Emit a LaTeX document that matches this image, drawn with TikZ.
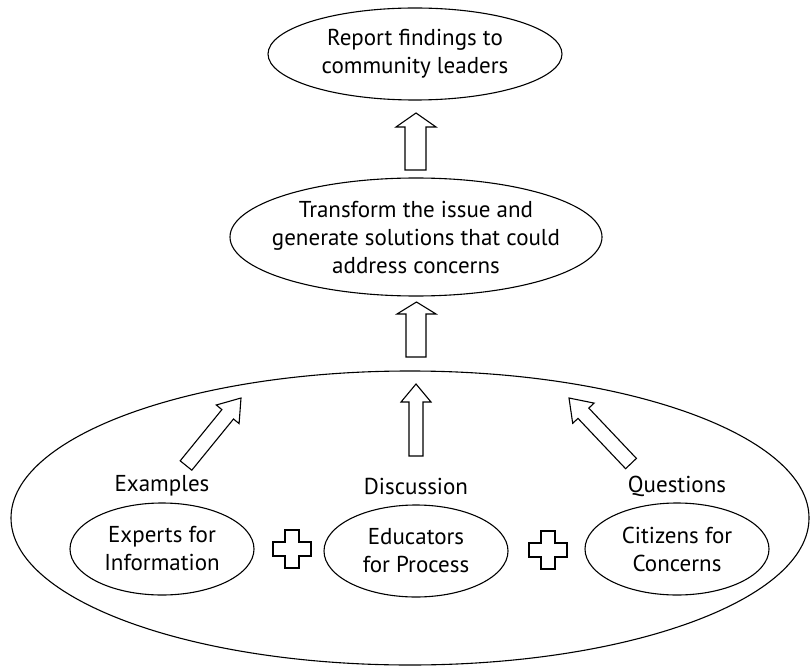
\documentclass[tikz,border=0pt]{standalone}
\usepackage{fontspec}
\setmainfont{PT Sans}
\usetikzlibrary{shapes.geometric}
\tikzset{
  oval/.style={draw, ellipse, line width=1.1pt, inner sep=0pt},
  lbl/.style={align=center, inner sep=0pt, font=\fontsize{23}{28}\selectfont},
  barrow/.style={draw, line width=1.1pt, line join=miter, fill=white},
  plussign/.style={draw, line width=1.1pt, fill=white}
}
\begin{document}
\begin{tikzpicture}[x=1pt, y=-1pt]
\useasboundingbox (0,0) rectangle (810,668);
% ellipses
\node[oval, minimum width=294pt, minimum height=92pt] (report) at (415,54) {};
\node[lbl] at (report) {Report findings to\\community leaders};
\node[oval, minimum width=372pt, minimum height=118pt] (transform) at (416,237) {};
\node[lbl] at (transform) {Transform the issue and\\generate solutions that could\\address concerns};
\node[oval, minimum width=798pt, minimum height=294pt] (group) at (410,518) {};
\node[oval, minimum width=184pt, minimum height=92pt] (experts) at (162,549) {};
\node[lbl] at (experts) {Experts for\\Information};
\node[oval, minimum width=184pt, minimum height=92pt] (educators) at (416,551) {};
\node[lbl] at (educators) {Educators\\for Process};
\node[oval, minimum width=184pt, minimum height=92pt] (citizens) at (677,549) {};
\node[lbl] at (citizens) {Citizens for\\Concerns};
% labels
\node[lbl] (examples) at (162,486) {Examples};
\node[lbl] (discussion) at (416,486) {Discussion};
\node[lbl] (questions) at (677,486) {Questions};
% block arrows
\draw[barrow] (405,170) -- (405,127) -- (396,127) -- (416,113) -- (436,127) -- (426,127) -- (426,170) -- cycle;
\draw[barrow] (406,357) -- (406,314) -- (397,314) -- (416.5,302) -- (436,314) -- (426,314) -- (426,357) -- cycle;
\draw[barrow] (409,456) -- (409,402) -- (401,402) -- (416,384) -- (431,402) -- (423,402) -- (423,456) -- cycle;
\draw[barrow] (180.2,460.8) -- (221.9,409.6) -- (216.3,405.0) -- (241,398) -- (239.1,423.6) -- (233.5,419.0) -- (191.8,470.2) -- cycle;
\draw[barrow] (636.4,458.4) -- (588.8,408.1) -- (594.1,403.1) -- (569,398) -- (572.7,423.3) -- (578.0,418.4) -- (625.6,468.7) -- cycle;
% plus signs
\draw[plussign, shift={(292,549)}] (-7,-19) -- (7,-19) -- (7,-7) -- (19,-7) -- (19,7) -- (7,7) -- (7,19) -- (-7,19) -- (-7,7) -- (-19,7) -- (-19,-7) -- (-7,-7) -- cycle;
\draw[plussign, shift={(548,550)}] (-7,-19) -- (7,-19) -- (7,-7) -- (19,-7) -- (19,7) -- (7,7) -- (7,19) -- (-7,19) -- (-7,7) -- (-19,7) -- (-19,-7) -- (-7,-7) -- cycle;
\end{tikzpicture}
\end{document}
